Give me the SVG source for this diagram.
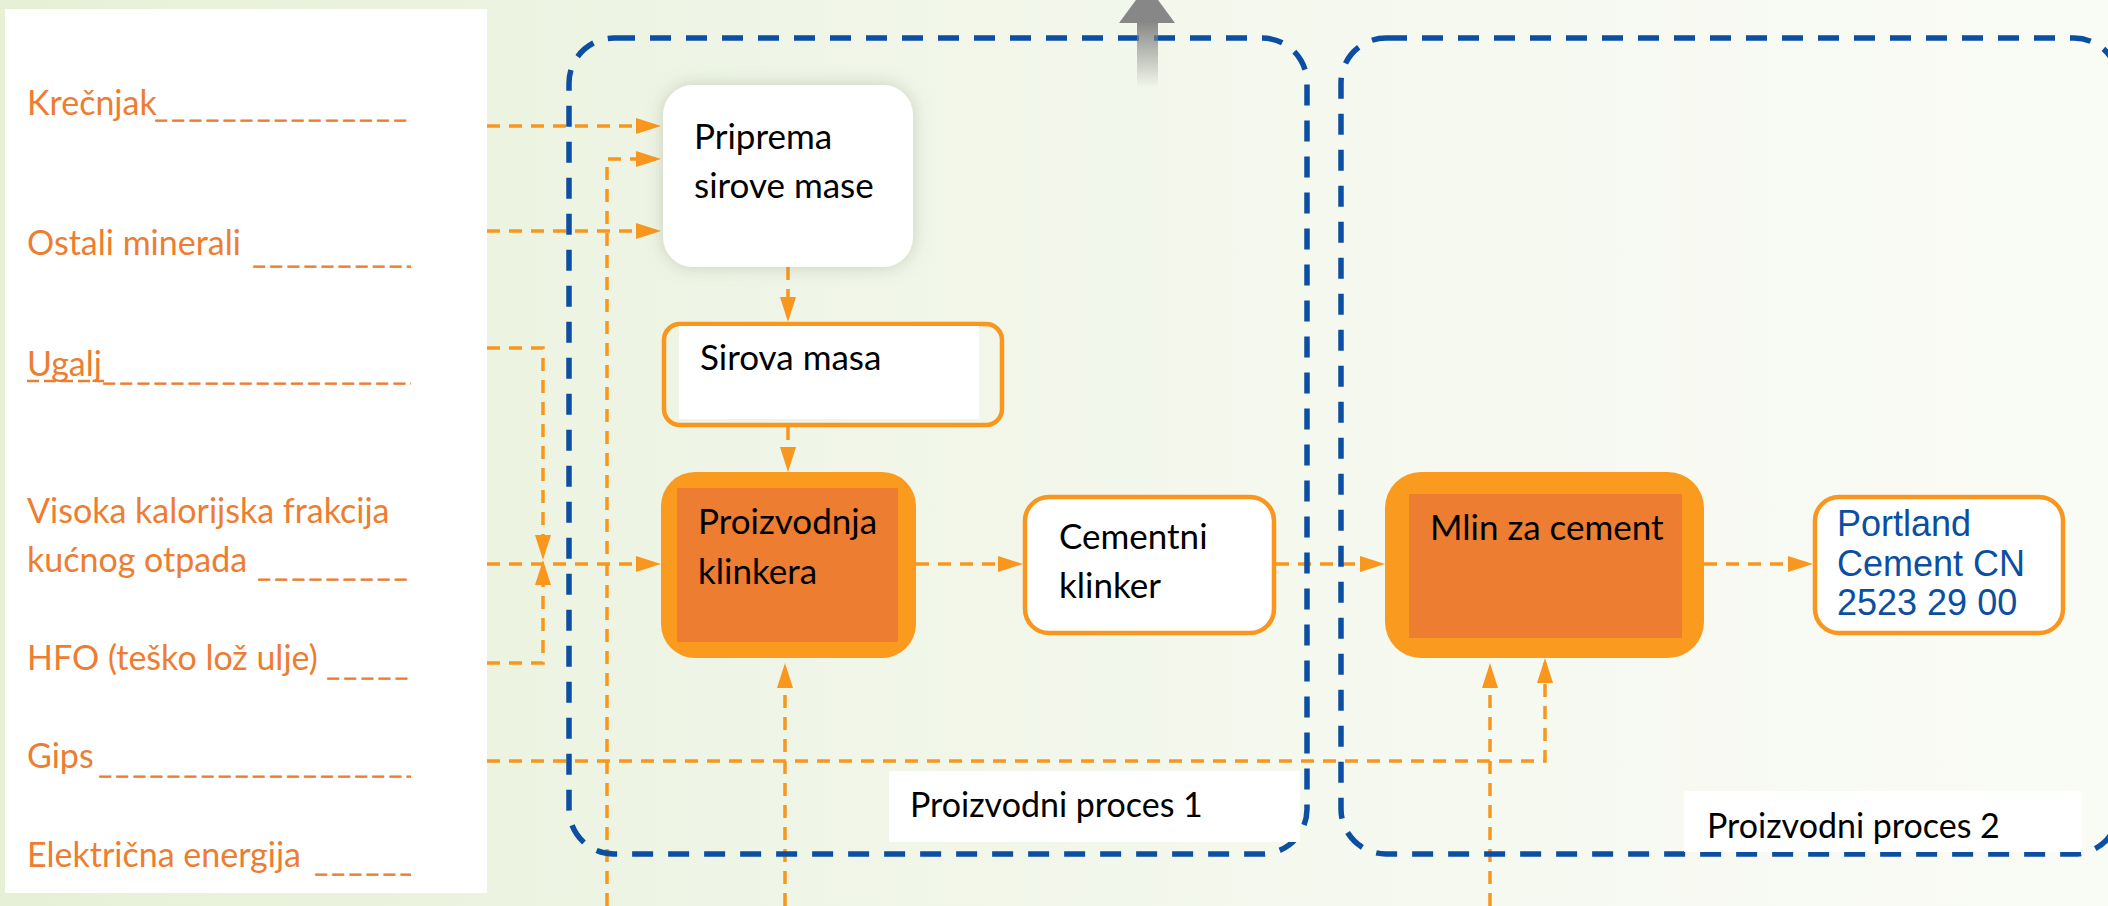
<svg xmlns="http://www.w3.org/2000/svg" width="2108" height="906" viewBox="0 0 2108 906">
<defs>
  <linearGradient id="bg" x1="0" y1="0" x2="1" y2="0">
    <stop offset="0" stop-color="#E6F0D6"/>
    <stop offset="0.35" stop-color="#EFF5E6"/>
    <stop offset="0.7" stop-color="#F6F9F0"/>
    <stop offset="1" stop-color="#F9FBF5"/>
  </linearGradient>
  <linearGradient id="shaft" x1="0" y1="0" x2="0" y2="1">
    <stop offset="0" stop-color="#7F7F7F" stop-opacity="0.95"/>
    <stop offset="1" stop-color="#7F7F7F" stop-opacity="0"/>
  </linearGradient>
  <filter id="glow" x="-20%" y="-20%" width="140%" height="140%">
    <feDropShadow dx="0" dy="0" stdDeviation="9" flood-color="#7D8C6A" flood-opacity="0.35"/>
  </filter>
  <marker id="arr" markerUnits="userSpaceOnUse" markerWidth="25" markerHeight="16" refX="20" refY="8" orient="auto">
    <path d="M0,0 L25,8 L0,16 Z" fill="#F8961E"/>
  </marker>
  <clipPath id="panelClip"><rect x="0" y="0" width="411" height="906"/></clipPath>
  <style>
    .lbl{font-family:Lato,"Liberation Sans",sans-serif;font-size:34px;fill:#ED7D31}
    .us{font-family:"Liberation Sans",sans-serif;font-size:19px;letter-spacing:6.5px;fill:#ED7D31;stroke:#ED7D31;stroke-width:1}
    .uline{stroke:#ED7D31;stroke-width:2.6;stroke-dasharray:12 5}
    .nt{font-family:Lato,"Liberation Sans",sans-serif;font-size:35px;fill:#000}
    .pl{font-family:Lato,"Liberation Sans",sans-serif;font-size:34px;fill:#000}
    .pt{font-family:"Liberation Sans",Arial,sans-serif;font-size:36px;fill:#0B4EA2}
    .conn{fill:none;stroke:#F8961E;stroke-width:3.5;stroke-dasharray:13 9}
    .proc{fill:none;stroke:#0B4EA2;stroke-width:5.5;stroke-dasharray:21 15}
    .outer{fill:#FA9A1E}
    .inner{fill:#ED7D31}
    .obox{stroke:#F8961E;stroke-width:4.5}
  </style>
</defs>

<rect x="0" y="0" width="2108" height="906" fill="url(#bg)"/>

<!-- input panel -->
<g id="inputs">
  <rect x="5" y="9" width="482" height="884" fill="#FFFFFF"/>
  <line class="uline" x1="27" y1="381" x2="104" y2="381"/>
  <g clip-path="url(#panelClip)">
    <text class="lbl" x="27" y="115">Krečnjak<tspan class="us" x="156" y="117">_________________</tspan></text>
    <text class="lbl" x="27" y="255">Ostali minerali <tspan class="us" x="254" y="263">__________</tspan></text>
    <text class="lbl"><tspan x="27" y="376">Ugalj</tspan><tspan class="us" x="104" y="380">____________________</tspan></text>
    <text class="lbl" x="27" y="523">Visoka kalorijska frakcija</text>
    <text class="lbl" x="27" y="572">kućnog otpada <tspan class="us" x="259" y="576">__________</tspan></text>
    <text class="lbl" x="27" y="670">HFO (teško lož ulje) <tspan class="us" x="328" y="675">______</tspan></text>
    <text class="lbl" x="27" y="768">Gips <tspan class="us" x="100" y="773">___________________</tspan></text>
    <text class="lbl" x="27" y="867">Električna energija <tspan class="us" x="316" y="871">______</tspan></text>
  </g>
</g>

<!-- connectors -->
<g id="connectors">
  <path class="conn" d="M487,126 H656" marker-end="url(#arr)"/>
  <path class="conn" d="M607,906 V159 H656" marker-end="url(#arr)"/>
  <path class="conn" d="M487,231 H656" marker-end="url(#arr)"/>
  <path class="conn" d="M487,348 H543 V555" marker-end="url(#arr)"/>
  <path class="conn" d="M487,663 H543 V565" marker-end="url(#arr)"/>
  <path class="conn" d="M487,564 H656" marker-end="url(#arr)"/>
  <path class="conn" d="M788,267 V317" marker-end="url(#arr)"/>
  <path class="conn" d="M788,427 V467" marker-end="url(#arr)"/>
  <path class="conn" d="M785,906 V668" marker-end="url(#arr)"/>
  <path class="conn" d="M916,564 H1018" marker-end="url(#arr)"/>
  <path class="conn" d="M1276,564 H1380" marker-end="url(#arr)"/>
  <path class="conn" d="M1704,564 H1808" marker-end="url(#arr)"/>
  <path class="conn" d="M487,761 H1545 V663" marker-end="url(#arr)"/>
  <path class="conn" d="M1490,906 V668" marker-end="url(#arr)"/>
</g>

<!-- process containers -->
<g id="proces1">
  <rect class="proc" x="569" y="38" width="738" height="816" rx="45"/>
</g>
<g id="proces2">
  <rect class="proc" x="1341" y="38" width="778" height="816" rx="45"/>
</g>

<!-- grey up arrow -->
<g id="upArrow">
  <rect x="1137" y="20" width="21" height="68" fill="url(#shaft)"/>
  <polygon points="1119,23 1175,23 1147,-15" fill="#878787"/>
</g>

<!-- nodes -->
<g id="priprema">
  <rect x="663" y="85" width="250" height="182" rx="30" fill="#FFFFFF" filter="url(#glow)"/>
  <text class="nt"><tspan x="694" y="149">Priprema</tspan><tspan x="694" y="198">sirove mase</tspan></text>
</g>

<g id="sirova">
  <rect class="obox" x="664" y="324" width="338" height="101" rx="16" fill="none"/>
  <rect x="679" y="326" width="300" height="93" fill="#FFFFFF"/>
  <text class="nt" x="700" y="370">Sirova masa</text>
</g>

<g id="proizvodnja">
  <rect class="outer" x="661" y="472" width="255" height="186" rx="34"/>
  <rect class="inner" x="677" y="488" width="221" height="154"/>
  <text class="nt"><tspan x="698" y="534">Proizvodnja</tspan><tspan x="698" y="584">klinkera</tspan></text>
</g>

<g id="cementni">
  <rect class="obox" x="1025" y="497" width="249" height="136" rx="24" fill="#FFFFFF"/>
  <text class="nt"><tspan x="1059" y="549">Cementni</tspan><tspan x="1059" y="598">klinker</tspan></text>
</g>

<g id="mlin">
  <rect class="outer" x="1385" y="472" width="319" height="186" rx="36"/>
  <rect class="inner" x="1409" y="494" width="273" height="144"/>
  <text class="nt" x="1430" y="540">Mlin za cement</text>
</g>

<g id="portland">
  <rect class="obox" x="1815" y="497" width="248" height="136" rx="24" fill="#FFFFFF"/>
  <text class="pt"><tspan x="1837" y="536">Portland</tspan><tspan x="1837" y="576">Cement CN</tspan><tspan x="1837" y="615">2523 29 00</tspan></text>
</g>

<g id="label1">
  <rect x="889" y="771" width="411" height="71" fill="#FFFFFF"/>
  <text class="pl" x="910" y="817">Proizvodni proces 1</text>
</g>

<g id="label2">
  <rect x="1684" y="791" width="398" height="61" fill="#FFFFFF"/>
  <text class="pl" x="1707" y="838">Proizvodni proces 2</text>
</g>
</svg>
